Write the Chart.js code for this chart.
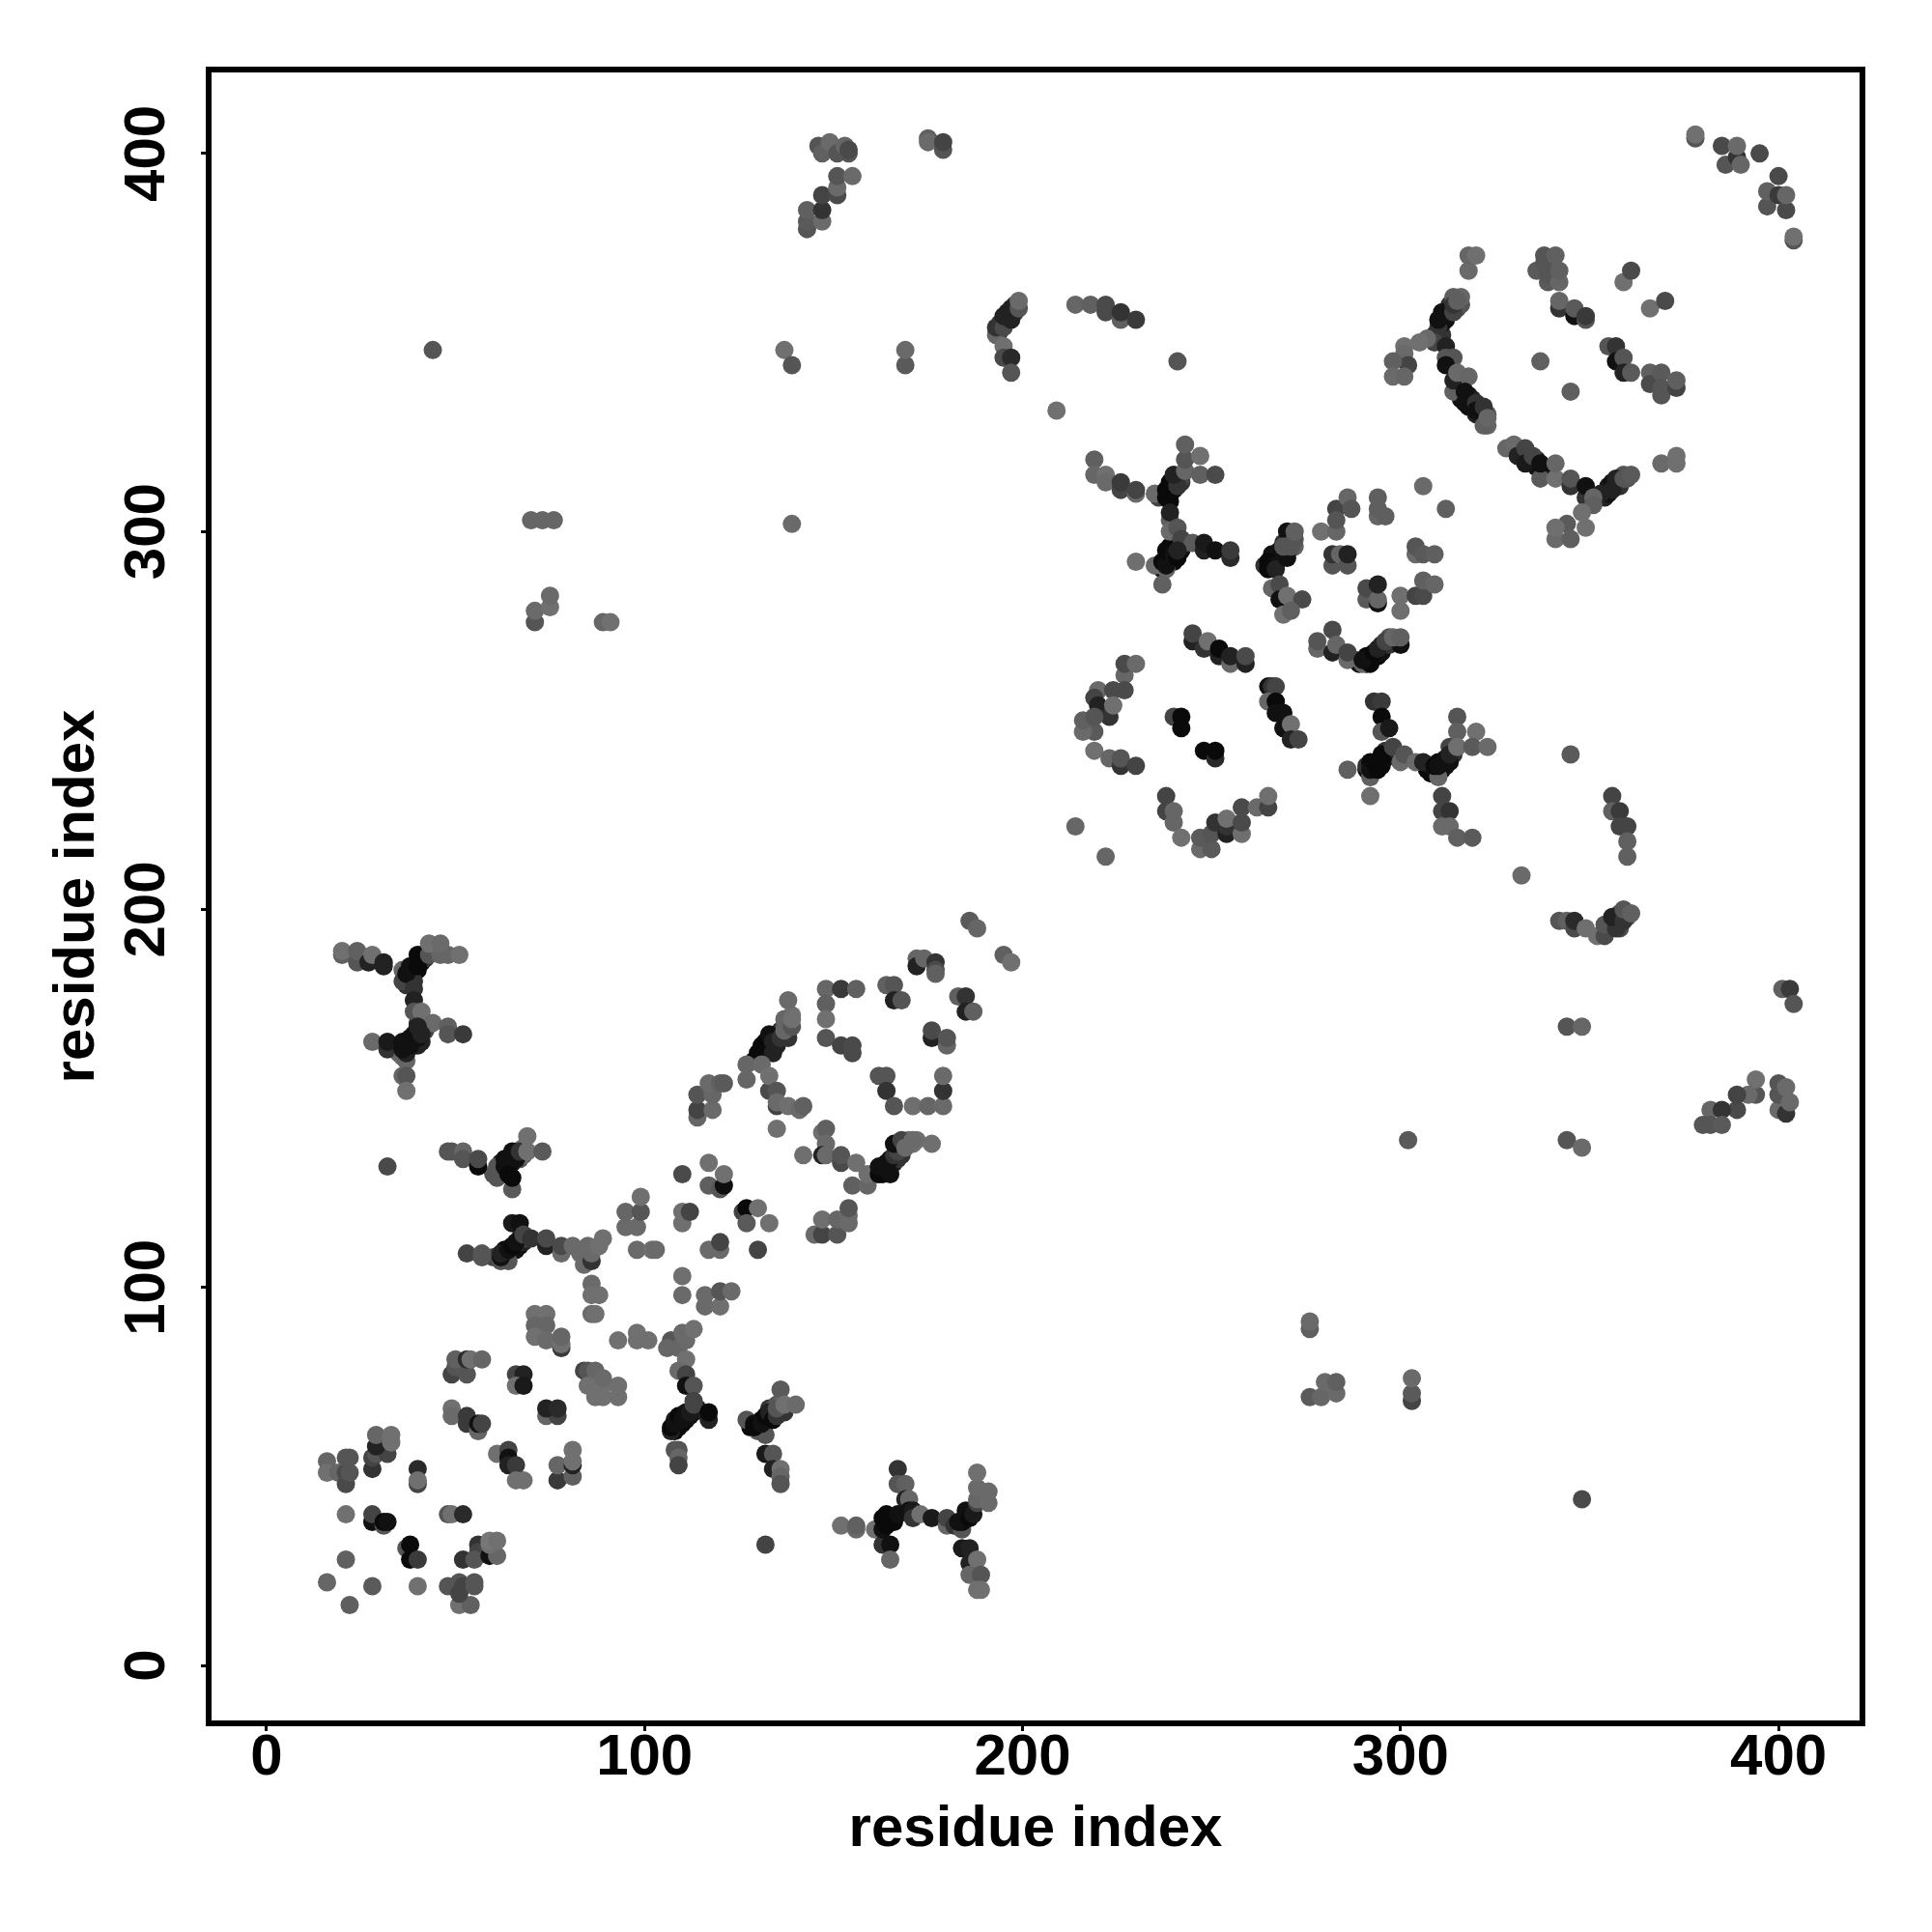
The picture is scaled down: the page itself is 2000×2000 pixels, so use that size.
<!DOCTYPE html>
<html>
<head>
<meta charset="utf-8">
<style>
html,body{margin:0;padding:0;background:#fff;}
#wrap{width:2000px;height:2000px;}
</style>
<script src="https://cdn.jsdelivr.net/npm/chart.js@4"></script>
</head>
<body>
<div id="wrap"><canvas id="contactMap" width="2000" height="2000"></canvas></div>
<script>
const axisTitle = "residue index";
const tickValues = [0,100,200,300,400];
const axisMin = -15.3;
const axisMax = 422.2;

// each contact: residue on x, residue on y, grey level of the dot
const denseStrands = [[108,62,10],[109,63,10],[110,64,10],[111,65,10],[112,66,17],[113,67,17],[114,68,34],[108,65,34],
 [128,63,10],[130,63,10],[131,65,10],[132,64,10],[133,65,17],[133,68,51],[134,68,68],[135,69,85],[136,69,102],
 [37,181,17],[38,182,10],[39,183,10],[40,184,10],[41,186,10],[42,187,51],[41,188,68],[37,180,51],
 [37,164,17],[38,166,17],[39,167,17],[39,164,17],[40,164,34],[41,165,34],[41,169,51],[42,168,68],[37,160,102],[35,162,102],
 [62,130,10],[62,133,10],[63,130,10],[64,132,10],[64,134,17],[65,133,17],[66,136,68],[67,134,85],[68,137,112],[68,135,102],[60,130,85],
 [60,108,68],[63,108,10],[63,110,10],[64,109,10],[65,110,17],[66,110,17],[67,111,17],[67,113,34],[68,112,34],[69,113,68],
 [129,160,17],[130,161,10],[131,162,10],[132,163,10],[132,165,10],[133,164,17],[134,166,17],[135,167,34],[135,166,34],[136,168,51],[137,169,85],[138,170,102],[139,172,112],[137,171,102],
 [161,130,10],[162,131,10],[163,130,17],[164,133,17],[164,131,17],[166,133,34],[167,134,51],[167,137,68],[168,137,85],[169,138,106],[170,139,106],[172,139,112],[168,135,51],[171,138,112]];
const denseUpper = [[236,309,68],[237,310,10],[239,310,10],[240,311,10],[240,313,10],[241,314,34],[239,308,10],[242,313,51],[242,314,68],
 [236,291,68],[237,290,17],[239,292,10],[239,294,10],[240,292,17],[242,295,17],[243,297,68],[239,296,10],
 [264,291,51],[266,291,10],[266,292,10],[267,293,10],[268,293,17],[268,295,17],[269,297,51],[270,295,17],[271,298,51],[271,299,34],[270,297,85],[272,296,96],
 [288,266,51],[289,265,17],[291,265,10],[291,267,10],[292,267,10],[294,267,10],[295,268,17],[295,270,34],[297,270,51],[297,272,85],[299,271,85],[290,265,102],
 [291,237,17],[291,238,51],[292,239,10],[293,237,10],[294,239,10],[295,238,10],[296,240,17],[296,242,51],
 [307,237,10],[308,236,10],[309,236,10],[310,239,10],[311,237,10],[312,238,17],[312,240,17],[314,241,51],[313,243,68],[308,238,17],
 [310,353,34],[311,352,51],[309,352,51],[311,355,17],[312,356,17],[312,357,17],[313,359,34],[313,360,51],[315,359,68],[316,360,85],[316,362,102],[314,362,96],
 [316,336,17],[316,335,17],[317,335,17],[318,336,17],[318,333,17],[319,333,17],[319,335,34],[320,331,34],[321,333,51],[321,331,34],[322,331,51],[323,331,85],[323,328,102],
 [331,322,68],[332,321,51],[333,320,26],[334,319,26],[335,318,17],[335,319,26],[336,317,17],[336,319,34],[338,317,17],
 [354,309,34],[355,310,17],[355,312,26],[356,313,17],[357,312,34],[358,314,34],[358,312,51],[359,315,85],[360,314,85],
 [355,195,74],[358,199,68],[358,195,74],[360,198,85],
 [194,355,51],[196,356,34],[196,358,34],[198,358,51],[198,360,68],[194,353,51]];
const cornerLow = [[51,16,112],[54,16,96],[16,22,102],[22,16,95],[28,21,90],[40,21,112],[48,21,85],[51,22,85],[51,19,68],[52,21,68],[55,22,85],[55,21,85],
 [21,40,112],[28,38,17],[28,40,68],[31,37,85],[31,38,10],[32,38,17],[48,40,85],[49,40,112],[52,40,42],[21,28,96],[37,31,85],[38,32,10],[38,28,10],[40,28,58],
 [52,28,51],[56,32,51],[56,30,68],[55,28,85],[59,29,17],[61,29,102],[59,32,112],[59,33,119],[61,33,112],
 [16,54,102],[16,51,112],[19,51,102],[21,48,74],[21,51,74],[22,51,85],[21,55,85],[22,55,85],
 [28,52,51],[28,55,68],[29,56,85],[32,56,68],[29,58,34],[29,61,102],[33,59,112],[33,61,112],[40,52,42],[40,48,68],[40,49,112]];
const cornerMid = [[49,68,112],[49,66,106],[53,66,58],[53,64,58],[56,62,102],[56,64,17],[57,64,68],[49,77,68],[53,77,85],[50,79,85],[50,81,96],[53,81,42],[54,81,112],[57,81,102],
 [66,77,68],[68,77,34],[66,74,112],[68,74,26],[74,66,102],[77,66,68],[74,68,34],[77,68,42],[61,56,112],[64,57,68],[64,55,17],[64,53,34],[66,53,58],[66,49,112],[68,49,112],[77,49,58],[81,50,96],[77,53,102],[81,53,34],[81,54,112],[81,57,112],
 [71,93,112],[74,93,112],[71,90,102],[74,90,102],[71,87,112],[74,86,106],[78,84,58],[78,85,112],[78,87,102],[84,78,68],[85,78,85],[87,78,102],[85,74,112],[87,71,112],[89,71,112],[89,74,112],[89,76,106],[93,71,111],[93,74,111],
 [86,101,106],[86,98,112],[88,98,112],[86,93,106],[87,93,112],[93,86,112],[98,88,112],[98,86,112],[101,86,111],[110,103,111],[110,98,106],[116,98,106],[116,95,106],[120,95,111],[120,99,85],[123,99,106]];
const lowerArms = [[107,86,85],[106,84,102],[109,84,102],[110,88,106],[111,86,106],[113,89,112],[111,81,112],[109,78,106],[111,77,68],[111,74,17],[113,74,85],[113,70,68],[107,62,34],[107,63,10],[108,64,17],[109,66,10],[110,65,17],[111,67,17],[112,67,26],[113,69,68],[117,65,34],[117,67,10],[108,57,85],[109,57,85],[109,55,102],[109,53,68],
 [127,65,85],[130,62,85],[132,61,85],[129,64,17],[129,63,10],[131,64,17],[132,66,10],[133,67,34],[134,65,10],[135,66,51],[137,67,51],[135,68,85],[136,73,90],[137,69,112],[140,69,106],[132,56,26],[134,56,85],[134,52,34],[136,52,112],[136,50,102],[136,48,85],[132,32,68],
 [152,37,112],[156,36,106],[156,37,96],[161,36,112],[163,32,51],[165,32,17],[165,28,102],[167,52,51],[167,48,85],[169,48,96],[169,44,34],[170,44,102],[163,36,17],[163,39,10],[164,40,10],[164,37,10],[166,38,10],[167,40,17],[170,41,17],[171,41,26],[171,39,51],[173,40,112],
 [176,39,26],[180,37,102],[180,39,68],[182,37,51],[184,36,85],[184,38,10],[183,38,17],[185,40,17],[185,41,17],[186,39,10],[187,40,26],[188,43,68],[188,44,102],[188,47,106],[188,51,112],[191,43,106],[191,46,106],[184,31,26],[186,31,34],[186,27,34],[188,28,112],[186,24,102],[189,24,85],[188,20,112],[189,20,112]];
const leftArms = [[20,188,96],[20,189,112],[24,186,85],[24,189,96],[27,186,34],[28,188,112],[31,186,34],[31,185,34],[36,184,102],[36,181,68],[39,181,51],[37,183,17],[38,185,17],[40,185,10],[40,188,10],[43,188,85],[46,188,102],[48,188,102],[43,191,112],[46,191,106],[51,188,112],
 [39,179,51],[39,176,34],[40,170,51],[39,173,85],[41,173,112],[44,170,106],[48,169,96],[48,167,85],[52,167,58],[28,165,106],[32,163,51],[32,165,26],[36,161,102],[37,162,34],[36,163,17],[36,165,17],[38,164,17],[40,166,17],[40,169,34],[41,167,34],[36,156,102],[37,156,85],[37,152,112],
 [32,132,74],[48,136,85],[49,136,85],[52,136,102],[52,134,85],[56,132,10],[56,134,74],[61,129,85],[61,132,85],[65,126,90],[63,132,17],[63,134,17],[64,130,10],[65,129,10],[65,136,17],[66,134,17],[67,136,51],[69,136,112],[69,140,112],[73,136,90],
 [65,117,26],[67,117,17],[53,109,68],[57,108,85],[57,109,85],[62,107,85],[64,107,85],[62,108,17],[62,109,34],[64,110,17],[65,111,10],[66,112,17],[68,114,68],[70,113,51],[74,111,34],[74,113,74],[78,109,106],[78,111,74],[81,111,106],[83,109,106],[84,106,106],[86,107,51],[85,111,106],[86,109,106],[88,111,112],[89,113,112]];
const centreLow = [[95,116,106],[95,120,102],[98,116,106],[99,120,85],[99,124,111],[98,110,106],[102,110,111],[103,110,106],[110,130,74],[110,117,111],[110,120,111],[112,120,68],[117,133,112],[117,127,95],[120,126,85],[121,127,15],[121,130,112],[117,110,106],[120,110,106],[120,112,68],[126,120,68],[127,121,10],[127,117,90],[130,121,112],[133,117,112],[130,110,68],
 [114,145,102],[114,147,68],[114,151,85],[118,147,106],[118,151,102],[117,154,106],[120,154,96],[121,154,90],
 [138,176,106],[130,162,10],[131,164,10],[133,167,17],[134,162,34],[134,165,34],[135,164,34],[136,166,51],[138,166,51],[137,168,102],[139,169,85],[139,171,112],[127,155,102],[127,159,102],[131,159,106],[133,152,74],[133,156,112],[135,152,85],[135,148,68],[135,149,106],[138,148,111],[141,147,106],[142,148,96],[135,142,112],
 [148,179,102],[152,179,58],[156,179,96],[148,175,96],[148,171,112],[148,166,85],[152,164,68],[155,162,74],[155,164,74],[164,180,96],[166,180,85],[166,176,34],[168,176,85],[183,177,95],[185,177,51],[185,173,34],[187,173,96],[176,166,34],[176,168,74],[180,164,102],[180,166,85],[162,156,85],[164,156,85],[164,152,51],[166,148,85],[171,148,111],[175,148,102],[179,148,106],[179,152,51],[179,156,106],
 [147,141,112],[148,142,96],[148,138,106],[142,135,111],[147,135,34],[148,135,106],[152,133,74],[152,135,85],[156,133,112],[155,127,96],[159,127,102],[159,130,111],[162,130,10],[162,132,17],[163,132,17],[165,130,17],[165,134,17],[166,135,51],[167,136,68],[166,138,17],[168,139,68],[169,137,106],[171,139,106],[176,138,111],
 [145,114,106],[147,114,68],[151,114,85],[147,118,111],[151,118,102],[154,117,106],[154,119,106],[154,121,85],
 [172,187,102],[172,185,34],[174,187,102],[177,186,51],[177,184,74],[177,183,96],[186,197,90],[188,195,102],[195,188,96],[197,186,112]];
const upperArms = [[219,319,96],[219,315,102],[222,315,112],[222,313,106],[226,311,68],[226,313,58],[230,310,106],[230,311,68],[235,310,106],[238,309,10],[238,311,10],[239,313,10],[241,312,51],[240,315,34],[243,316,102],[243,319,85],[243,323,96],[247,315,96],[247,320,112],[251,315,74],[239,303,96],[239,305,34],
 [239,300,106],[241,301,85],[242,298,68],[245,297,90],[248,295,34],[248,297,26],[251,295,17],[255,293,42],[255,295,58],[238,290,102],[235,291,106],[230,292,111],[237,292,10],[238,291,17],[238,295,10],[240,294,17],[241,293,10],[241,295,34],[237,286,96],
 [269,294,17],[266,294,17],[265,292,10],[267,291,17],[265,290,10],[267,290,34],[270,293,17],[270,300,17],[272,298,85],[271,296,85],[269,296,85],[272,300,96],[266,285,102],[268,286,74],[268,282,17],[270,283,112],[274,282,74],[269,278,112],[271,279,95],
 [279,300,112],[283,300,102],[283,306,68],[283,303,85],[286,309,102],[287,306,85],[294,304,102],[294,306,95],[294,309,95],[296,304,95],[306,312,106],[312,306,96],[282,291,85],[282,294,51],[284,294,102],[286,291,85],[286,294,34],[304,294,106],[304,296,85],[306,294,90],[309,294,95],
 [291,282,90],[291,285,74],[294,281,17],[294,282,102],[294,286,34],[300,279,111],[300,283,111],[304,283,68],[306,283,74],[306,287,96],[309,286,102],
 [278,269,102],[278,271,85],[282,268,34],[282,274,74],[283,270,102],[286,266,106],[286,268,68],[292,265,10],[290,266,17],[293,268,10],[294,269,34],[296,271,68],[300,270,17],[298,272,102],[300,272,96]];
const centreHigh = [[245,271,34],[245,273,68],[248,269,51],[249,271,112],[252,267,34],[252,269,10],[255,265,106],[255,267,34],[259,265,34],[259,267,74],
 [227,262,102],[227,265,74],[230,265,106],[220,258,106],[224,258,74],[227,258,74],[219,256,68],[220,254,34],[223,251,51],[224,254,111],[219,247,90],[216,247,106],[216,250,96],[219,251,85],[219,242,112],[223,240,102],[226,238,51],[226,240,85],[230,238,68],
 [240,251,68],[242,251,10],[242,248,10],[248,242,10],[251,240,42],[251,242,10],
 [238,230,68],[238,226,68],[240,226,102],[240,223,102],[242,219,112],[247,216,106],[247,219,90],[250,216,90],[250,220,85],[251,223,51],[254,220,34],[254,222,51],[254,224,112],[258,220,111],[258,223,74],[258,227,74],[262,227,106],[265,227,68],[265,230,111],[214,222,102],[222,214,102],
 [265,259,17],[266,259,51],[267,259,68],[265,255,102],[267,255,10],[267,252,17],[269,252,17],[269,248,17],[271,249,112],[271,245,34],[273,245,68],
 [292,235,96],[292,230,111],[286,237,96],[292,237,17],[293,239,10],[294,237,10],[295,240,10],[295,241,10],[293,255,51],[295,255,58],[295,251,10],[295,247,85],[297,248,26],[298,243,68],[300,239,106],[301,241,85],
 [304,239,106],[306,239,34],[310,235,102],[309,238,10],[310,238,17],[313,239,17],[313,241,34],[315,251,85],[315,247,96],[315,243,111],[320,247,112],[319,243,90],[323,243,106],[311,230,68],[311,226,68],[313,226,51],[311,222,106],[313,222,106],[315,219,96],[319,219,90]];
const rightArms = [[328,322,102],[330,323,106],[331,320,34],[333,322,68],[333,318,26],[335,320,68],[337,314,90],[337,318,17],[341,314,112],[341,318,102],[345,312,51],[345,314,85],[349,309,51],[349,312,17],[353,310,34],[356,311,34],[357,314,34],[359,314,85],[361,315,90],[351,309,102],[351,307,95],[348,305,112],[349,301,112],[344,302,90],[341,298,106],[341,301,111],[345,298,95],[369,318,106],[373,318,111],[373,320,112],
 [345,241,90],[356,230,68],[356,226,96],[358,226,58],[358,222,68],[360,222,68],[360,218,96],[360,214,96],[332,209,106],
 [310,354,51],[310,356,17],[311,358,17],[314,358,68],[314,360,51],[315,361,95],[309,350,68],[307,351,106],[305,350,112],[301,349,112],[301,347,106],[302,344,68],[298,345,96],[298,341,106],[301,341,102],
 [312,349,34],[312,346,85],[314,346,85],[312,344,17],[314,337,96],[314,340,34],[315,342,106],[318,341,102],[317,337,17],[317,334,17],[320,334,51],[320,332,17],[322,333,51],[322,328,96],[323,330,102],
 [355,349,85],[357,349,51],[357,345,17],[359,346,85],[359,342,34],[361,342,90],[366,342,96],[366,339,74],[369,342,90],[369,336,85],[369,338,85],[373,338,68],[373,340,95]];
const cornerHigh = [[378,404,85],[378,405,112],[385,402,74],[386,397,85],[389,399,51],[389,402,106],[390,397,102],[395,400,74],[400,394,74],[397,386,85],[397,390,96],[400,389,58],[402,385,74],[402,389,102],[404,377,85],[404,378,112],
 [318,369,106],[318,373,102],[320,373,111],[336,369,90],[338,371,85],[338,373,85],[339,366,90],[339,368,85],[341,373,96],[342,366,102],[342,369,96],[342,359,51],[342,361,102],[346,357,17],[346,359,90],[349,356,85],[349,357,58],[359,366,112],[361,369,74],[366,359,112],[370,361,74],[337,345,96],[345,337,95]];
const rightEdge = [[342,197,85],[344,197,96],[346,195,74],[346,197,42],[349,195,111],[352,193,112],[354,193,74],[354,196,85],[357,195,51],[356,198,34],[359,197,51],[359,200,85],[361,199,96],
 [401,179,96],[403,179,58],[404,175,85],[344,169,85],[348,169,102],[344,139,85],[348,137,106],
 [394,151,85],[394,155,112],[392,151,106],[389,147,74],[389,151,68],[382,147,102],[385,147,51],[380,143,85],[382,143,85],[385,143,90],[400,147,106],[402,146,51],[400,151,85],[400,154,85],[402,153,106],[403,149,106]];
const topEdge = [[143,380,85],[143,382,90],[143,385,96],[147,382,106],[147,385,51],[147,389,68],[151,389,74],[151,391,106],[151,394,85],[155,394,106],[146,402,85],[147,400,96],[149,403,106],[151,400,85],[153,402,102],[154,400,85],[154,401,74],[175,404,96],[175,403,106],[179,401,85],[179,403,68],
 [137,348,112],[139,344,85],[169,344,90],[169,348,106],[193,352,102],[193,354,51],[195,354,74],[197,356,34],[195,357,34],[197,359,34],[199,359,85],[199,361,106],[195,349,111],[195,346,74],[197,346,42],[197,342,85],[209,332,112],
 [214,360,102],[218,360,96],[222,358,74],[222,360,74],[226,356,96],[226,358,51],[230,356,58],[241,345,85]];
const strays = [[44,348,85],[139,302,106],[70,303,102],[73,303,102],[76,303,102],[71,276,85],[71,279,106],[75,280,112],[75,283,106],[89,276,102],[91,276,112],[302,139,90],[348,44,74],[276,89,96],[276,91,106],[276,71,90],[279,71,102],[280,75,106],[283,72,106],[283,75,96],[303,70,68],[303,72,90],[303,76,106]];

const contacts = [].concat(denseStrands,denseUpper,cornerLow,cornerMid,lowerArms,leftArms,centreLow,upperArms,centreHigh,rightArms,cornerHigh,rightEdge,topEdge,strays);

const boxFrame = {
    id:"boxFrame",
    afterDatasetsDraw(chart){
        const a = chart.chartArea;
        const c = chart.ctx;
        c.save();
        c.strokeStyle = "#000";
        c.lineWidth = 6;
        c.lineJoin = "miter";
        c.strokeRect(a.left,a.top,a.right-a.left,a.bottom-a.top);
        c.restore();
    }
};

const font = {family:"'Liberation Sans'",size:60,weight:"bold"};

function fixedTicks(scale){
    scale.ticks = tickValues.map(v=>({value:v}));
}

const ctx = document.getElementById("contactMap");

new Chart(ctx,{
    type:"scatter",
    data:{
        datasets:[{
            data:contacts.map(p=>({x:p[0],y:p[1]})),
            backgroundColor:contacts.map(p=>`rgb(${p[2]},${p[2]},${p[2]})`),
            borderWidth:0,
            pointRadius:9.5,
            pointHoverRadius:9.5
        }]
    },
    plugins:[boxFrame],
    options:{
        responsive:false,
        animation:false,
        devicePixelRatio:1,
        layout:{padding:{top:72,right:72,left:0,bottom:0}},
        plugins:{legend:{display:false},tooltip:{enabled:false}},
        scales:{
            x:{
                type:"linear",
                min:axisMin,
                max:axisMax,
                afterBuildTicks:fixedTicks,
                afterFit(scale){scale.height = 216;},
                grid:{drawOnChartArea:false,drawTicks:true,tickLength:8,tickWidth:3,tickColor:"#000"},
                border:{display:false},
                ticks:{font,color:"#000",padding:-8,maxRotation:0,autoSkip:false,callback:v=>v},
                title:{display:true,text:axisTitle,font,color:"#000",padding:{top:0,bottom:70}}
            },
            y:{
                type:"linear",
                min:axisMin,
                max:axisMax,
                afterBuildTicks:fixedTicks,
                afterFit(scale){scale.width = 216;},
                grid:{drawOnChartArea:false,drawTicks:true,tickLength:8,tickWidth:3,tickColor:"#000"},
                border:{display:false},
                ticks:{font,color:"#000",padding:4,minRotation:90,maxRotation:90,crossAlign:"center",autoSkip:false,callback:v=>v},
                title:{display:true,text:axisTitle,font,color:"#000",padding:{top:44,bottom:0}}
            }
        }
    }
});
</script>
</body>
</html>
